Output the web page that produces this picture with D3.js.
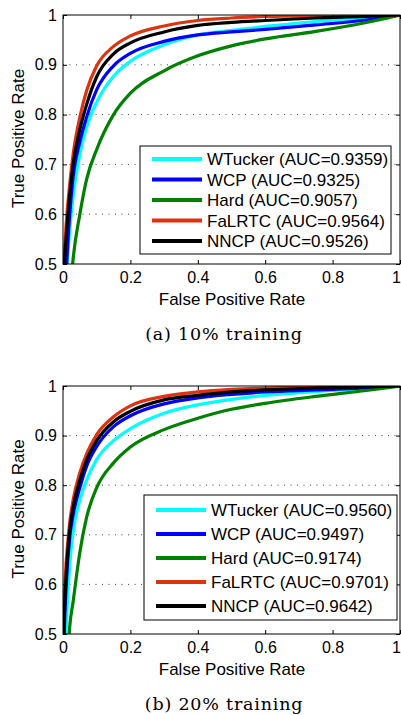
<!DOCTYPE html>
<html>
<head>
<meta charset="utf-8">
<script src="https://cdn.jsdelivr.net/npm/d3@7"></script>
<style>
	body { margin: 0; background: #fff; }
	svg { display: block; }
	text { font-family: "Liberation Sans", Arial, sans-serif; fill: #000; }
	.caption { font-family: "DejaVu Serif", serif; letter-spacing: 0.8px; }
</style>
</head>
<body>
<svg id="chart" width="401" height="715"></svg>
<script>
// false positive rate grid, shared by every curve
const fpr = [0, 0.005, 0.01, 0.02, 0.03, 0.05, 0.07, 0.1, 0.15, 0.2, 0.3, 0.4, 0.5, 0.6, 0.75, 0.9, 1];

// (a) 10% training, true positive rate
const aWTucker = [0.28, 0.40, 0.47, 0.57, 0.635, 0.72, 0.775, 0.825, 0.877, 0.907, 0.94, 0.96, 0.969, 0.977, 0.987, 0.994, 1];
const aWCP     = [0.30, 0.42, 0.49, 0.60, 0.675, 0.745, 0.795, 0.85, 0.898, 0.923, 0.947, 0.96, 0.966, 0.971, 0.98, 0.99, 1];
const aHard    = [0.15, 0.25, 0.30, 0.43, 0.51, 0.60, 0.67, 0.73, 0.80, 0.843, 0.888, 0.918, 0.938, 0.952, 0.967, 0.985, 1];
const aFaLRTC  = [0.45, 0.53, 0.585, 0.66, 0.72, 0.795, 0.848, 0.898, 0.937, 0.958, 0.978, 0.989, 0.994, 0.997, 0.999, 1, 1];
const aNNCP    = [0.44, 0.51, 0.56, 0.64, 0.70, 0.77, 0.82, 0.876, 0.922, 0.944, 0.966, 0.979, 0.985, 0.989, 0.994, 0.997, 1];

// (b) 20% training
const bWTucker = [0.35, 0.43, 0.52, 0.64, 0.705, 0.77, 0.81, 0.852, 0.89, 0.914, 0.945, 0.962, 0.973, 0.981, 0.989, 0.995, 1];
const bWCP     = [0.42, 0.53, 0.605, 0.695, 0.74, 0.795, 0.838, 0.878, 0.918, 0.94, 0.964, 0.976, 0.983, 0.988, 0.992, 0.996, 1];
const bHard    = [0.20, 0.30, 0.40, 0.515, 0.565, 0.665, 0.735, 0.795, 0.845, 0.877, 0.912, 0.935, 0.953, 0.965, 0.979, 0.991, 1];
const bFaLRTC  = [0.48, 0.59, 0.65, 0.725, 0.77, 0.825, 0.863, 0.902, 0.938, 0.96, 0.979, 0.988, 0.993, 0.996, 0.998, 0.999, 1];
const bNNCP    = [0.46, 0.56, 0.625, 0.71, 0.755, 0.81, 0.85, 0.89, 0.928, 0.949, 0.972, 0.981, 0.988, 0.992, 0.996, 0.998, 1];

const methods = ['WTucker', 'WCP', 'Hard', 'FaLRTC', 'NNCP'];
const colors  = ['#00ffff', '#0000ff', '#008000', '#dd3311', '#000000'];
const aucA = ['0.9359', '0.9325', '0.9057', '0.9564', '0.9526'];
const aucB = ['0.9560', '0.9497', '0.9174', '0.9701', '0.9642'];

const xTicks = [0, 0.2, 0.4, 0.6, 0.8, 1];
const yTicks = [0.5, 0.6, 0.7, 0.8, 0.9, 1];

const svg = d3.select('#chart');

function drawPanel({id, top, bottom, series, auc, caption, legend}) {
	const left = 63, right = 400;

	let x = d3.scaleLinear().domain([0, 1]).range([left, right]);
	let y = d3.scaleLinear().domain([0.5, 1]).range([bottom, top]);

	const g = svg.append('g');

	g.append('clipPath')
		.attr('id', 'clip-' + id)
		.append('rect')
		.attr('x', left).attr('y', top)
		.attr('width', right - left).attr('height', bottom - top);

	// dotted horizontal grid
	g.selectAll('.grid')
		.data(yTicks.filter(d => d > 0.5 && d < 1))
		.enter().append('line')
		.attr('x1', left).attr('x2', right)
		.attr('y1', d => y(d)).attr('y2', d => y(d))
		.attr('stroke', '#444')
		.attr('stroke-width', 1)
		.attr('stroke-dasharray', '1,5.5');

	// curves, drawn in legend order
	let line = d3.line()
		.x((d, i) => x(fpr[i]))
		.y(d => y(d))
		.curve(d3.curveMonotoneX);

	g.append('g')
		.attr('clip-path', `url(#clip-${id})`)
		.selectAll('path')
		.data(series)
		.enter().append('path')
		.attr('d', d => line(d))
		.attr('fill', 'none')
		.attr('stroke', (d, i) => colors[i])
		.attr('stroke-width', 3.2)
		.attr('stroke-linejoin', 'round');

	// axes with inward ticks on all four sides
	let bx = g.append('g')
		.attr('transform', `translate(0,${bottom})`)
		.call(d3.axisBottom(x).tickValues(xTicks).tickSize(-4).tickPadding(8).tickFormat(d3.format('~g')));
	// last label would run past the window edge
	bx.selectAll('.tick text').filter(d => d === 1).attr('dx', -4);
	g.append('g')
		.attr('transform', `translate(0,${top})`)
		.call(d3.axisTop(x).tickValues(xTicks).tickSize(-4).tickFormat(''));
	g.append('g')
		.attr('transform', `translate(${left},0)`)
		.call(d3.axisLeft(y).tickValues(yTicks).tickSize(-4).tickPadding(6).tickFormat(d3.format('~g')));
	g.append('g')
		.attr('transform', `translate(${right},0)`)
		.call(d3.axisRight(y).tickValues(yTicks).tickSize(-4).tickFormat(''));

	g.selectAll('.domain').remove();
	g.selectAll('.tick line').attr('stroke', '#000');
	g.selectAll('.tick text').style('font-size', '16px').attr('fill', '#000');

	g.append('rect')
		.attr('x', left).attr('y', top)
		.attr('width', right - left).attr('height', bottom - top)
		.attr('fill', 'none').attr('stroke', '#000').attr('stroke-width', 1);

	// legend
	const lg = g.append('g');
	lg.append('rect')
		.attr('x', legend.x).attr('y', legend.y)
		.attr('width', legend.w).attr('height', legend.h)
		.attr('fill', '#fff').attr('stroke', '#000').attr('stroke-width', 1);

	methods.forEach((m, i) => {
		let ly = legend.y + legend.first + i * legend.step;
		lg.append('line')
			.attr('x1', legend.x + 12).attr('x2', legend.x + 62)
			.attr('y1', ly).attr('y2', ly)
			.attr('stroke', colors[i]).attr('stroke-width', 4);
		lg.append('text')
			.attr('x', legend.x + 67).attr('y', ly)
			.attr('dy', '0.36em')
			.style('font-size', '17px')
			.text(`${m} (AUC=${auc[i]})`);
	});

	// axis titles
	g.append('text')
		.attr('x', 232).attr('y', bottom + 41)
		.attr('text-anchor', 'middle')
		.style('font-size', '17px')
		.text('False Positive Rate');
	g.append('text')
		.attr('transform', `translate(24,${(top + bottom) / 2 - 1}) rotate(-90)`)
		.attr('text-anchor', 'middle')
		.style('font-size', '17px')
		.text('True Positive Rate');

	g.append('text')
		.attr('class', 'caption')
		.attr('x', 224).attr('y', bottom + 76)
		.attr('text-anchor', 'middle')
		.style('font-size', '17.5px')
		.text(caption);
}

drawPanel({
	id: 'a', top: 15, bottom: 264,
	series: [aWTucker, aWCP, aHard, aFaLRTC, aNNCP],
	auc: aucA,
	caption: '(a) 10% training',
	legend: {x: 140, y: 146, w: 251, h: 108, first: 13, step: 20.5}
});

drawPanel({
	id: 'b', top: 386, bottom: 634,
	series: [bWTucker, bWCP, bHard, bFaLRTC, bNNCP],
	auc: aucB,
	caption: '(b) 20% training',
	legend: {x: 144, y: 495, w: 253, h: 125, first: 15, step: 24}
});
</script>
</body>
</html>
